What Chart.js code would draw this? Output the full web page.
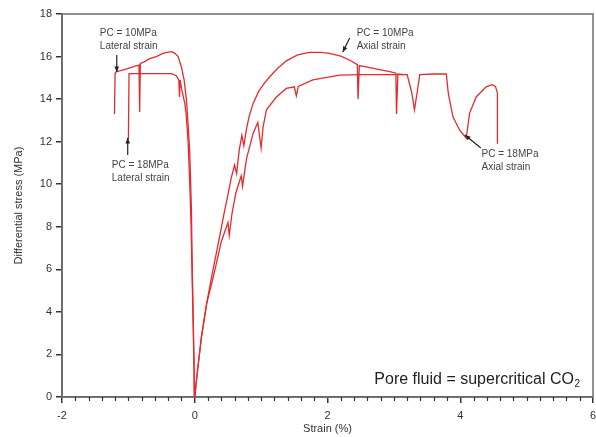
<!DOCTYPE html>
<html lang="en">
<head>
<meta charset="UTF-8" />
<title>Differential stress vs strain – supercritical CO2</title>
<style>
  html,body{margin:0;padding:0;background:#fff;}
  #wrap{width:596px;height:437px;position:relative;}
</style>
<script src="https://cdn.jsdelivr.net/npm/chart.js@4.4.0/dist/chart.umd.min.js"></script>
</head>
<body>
<div id="wrap"><canvas id="c" width="596" height="437"></canvas></div>
<script>
// ===== data (strain %, differential stress MPa) =====
// PC = 10MPa, lateral strain
const lat10Strain = [0, -0.01, -0.025, -0.04, -0.05, -0.075, -0.1, -0.125, -0.16, -0.2, -0.25, -0.3, -0.35, -0.42, -0.48, -0.58, -0.68, -0.76, -0.82, -0.83, -0.84, -0.9, -1.0, -1.1, -1.18, -1.2, -1.21];
const lat10Stress = [0, 1.5, 4.1, 6.5, 8.8, 11.5, 12.8, 13.96, 14.9, 15.5, 16.0, 16.15, 16.23, 16.2, 16.15, 16.0, 15.9, 15.75, 15.68, 13.4, 15.6, 15.55, 15.45, 15.35, 15.29, 15.2, 13.3];
// PC = 18MPa, lateral strain
const lat18Strain = [0, -0.015, -0.035, -0.055, -0.075, -0.1, -0.13, -0.15, -0.2, -0.22, -0.23, -0.24, -0.28, -0.35, -0.55, -0.7, -0.85, -0.95, -0.99, -1.0];
const lat18Stress = [0, 2, 5, 8, 10, 12, 13.3, 13.8, 14.5, 14.9, 14.1, 14.9, 15.1, 15.2, 15.2, 15.2, 15.2, 15.2, 15.2, 12.1];
// PC = 10MPa, axial strain
const ax10Strain = [0, 0.04, 0.1, 0.18, 0.27, 0.36, 0.44, 0.5, 0.55, 0.6, 0.63, 0.67, 0.71, 0.74, 0.78, 0.82, 0.88, 0.96, 1.05, 1.13, 1.25, 1.38, 1.55, 1.73, 1.9, 2.03, 2.2, 2.33, 2.45, 2.46, 2.48, 2.6, 2.69, 2.82, 2.94, 3.03, 3.04, 3.06, 3.15];
const ax10Stress = [0, 1.2, 2.8, 4.4, 5.9, 7.3, 8.6, 9.5, 10.3, 10.9, 10.5, 11.6, 12.3, 11.8, 12.6, 13.2, 13.8, 14.35, 14.75, 15.05, 15.45, 15.8, 16.08, 16.2, 16.2, 16.15, 16.02, 15.84, 15.62, 14.0, 15.58, 15.5, 15.44, 15.36, 15.29, 15.22, 13.3, 15.18, 15.15];
// PC = 18MPa, axial strain
const ax18Strain = [0, 0.04, 0.1, 0.18, 0.28, 0.4, 0.5, 0.52, 0.56, 0.62, 0.7, 0.72, 0.78, 0.88, 0.95, 1.0, 1.03, 1.08, 1.23, 1.38, 1.5, 1.53, 1.56, 1.78, 2.18, 2.5, 2.9, 3.2, 3.27, 3.31, 3.35, 3.39, 3.6, 3.79, 3.82, 3.89, 3.99, 4.09, 4.14, 4.24, 4.39, 4.48, 4.53, 4.56, 4.56];
const ax18Stress = [0, 1.2, 2.8, 4.4, 5.65, 7.3, 8.2, 7.6, 8.6, 9.6, 10.4, 9.9, 11.2, 12.4, 12.9, 11.7, 12.7, 13.5, 14.1, 14.5, 14.58, 14.15, 14.6, 14.9, 15.13, 15.15, 15.15, 15.15, 14.3, 13.5, 14.3, 15.15, 15.18, 15.18, 14.27, 13.17, 12.55, 12.16, 13.33, 14.1, 14.58, 14.68, 14.6, 14.3, 11.9];

const xTicks = [-2, 0, 2, 4, 6];
const yTicks = [0, 2, 4, 6, 8, 10, 12, 14, 16, 18];

// labels with arrows: text anchor and arrow in data units
const noteText = [["PC = 10MPa", "Lateral strain"], ["PC = 18MPa", "Lateral strain"], ["PC = 10MPa", "Axial strain"], ["PC = 18MPa", "Axial strain"]];
const noteAt = [[-1.43, 17.1], [-1.25, 10.9], [2.44, 17.1], [4.32, 11.42]];
const arrowFrom = [[-1.175, 16.07], [-1.01, 11.37], [2.335, 16.87], [4.31, 11.7]];
const arrowTo = [[-1.175, 15.27], [-1.01, 12.17], [2.23, 16.21], [4.07, 12.31]];

const pts = (xs, ys) => xs.map((x, i) => ({x: x, y: ys[i]}));
const red = '#e52a2e';
const fontFam = '"Liberation Sans", Arial, sans-serif';

const line = (label, xs, ys) => ({
  label: label, data: pts(xs, ys), showLine: true,
  borderColor: red, borderWidth: 1.3, pointRadius: 0, tension: 0, fill: false
});

// frame, minor ticks, notes
const extras = {
  id: 'extras',
  beforeDatasetsDraw(chart) {
    const {ctx, chartArea: a} = chart;
    ctx.save();
    ctx.strokeStyle = '#777';
    ctx.lineWidth = 1.6;
    ctx.strokeRect(a.left, a.top, a.right - a.left, a.bottom - a.top);
    ctx.restore();
  },
  afterDraw(chart) {
    const {ctx, chartArea: a, scales: {x, y}} = chart;
    ctx.save();
    // minor ticks every 0.2 on x
    ctx.strokeStyle = '#333';
    ctx.lineWidth = 1.2;
    for (let i = -10; i <= 30; i++) {
      if (i % 10 === 0) continue;
      const px = Math.round(x.getPixelForValue(i * 0.2)) + 0.5;
      ctx.beginPath(); ctx.moveTo(px, a.bottom); ctx.lineTo(px, a.bottom + 4); ctx.stroke();
    }
    // notes
    ctx.fillStyle = '#444';
    ctx.font = '10px ' + fontFam;
    ctx.textBaseline = 'middle';
    noteText.forEach((lines, k) => {
      const tx = x.getPixelForValue(noteAt[k][0]), ty = y.getPixelForValue(noteAt[k][1]);
      lines.forEach((s, j) => ctx.fillText(s, tx, ty + j * 13));
      const x0 = x.getPixelForValue(arrowFrom[k][0]), y0 = y.getPixelForValue(arrowFrom[k][1]);
      const x1 = x.getPixelForValue(arrowTo[k][0]), y1 = y.getPixelForValue(arrowTo[k][1]);
      ctx.strokeStyle = '#222'; ctx.lineWidth = 1.2;
      ctx.beginPath(); ctx.moveTo(x0, y0); ctx.lineTo(x1, y1); ctx.stroke();
      const ang = Math.atan2(y1 - y0, x1 - x0);
      ctx.fillStyle = '#222';
      ctx.beginPath();
      ctx.moveTo(x1, y1);
      ctx.lineTo(x1 - 6 * Math.cos(ang - 0.4), y1 - 6 * Math.sin(ang - 0.4));
      ctx.lineTo(x1 - 6 * Math.cos(ang + 0.4), y1 - 6 * Math.sin(ang + 0.4));
      ctx.closePath(); ctx.fill();
      ctx.fillStyle = '#444';
    });
    // pore fluid label
    ctx.fillStyle = '#222';
    ctx.font = '16px ' + fontFam;
    ctx.textBaseline = 'alphabetic';
    const s = 'Pore fluid = supercritical CO';
    const w = ctx.measureText(s).width;
    const bx = a.right - 19 - w, by = a.bottom - 13;
    ctx.fillText(s, bx, by);
    ctx.font = '10px ' + fontFam;
    ctx.fillText('2', bx + w + 0.5, by + 3);
    ctx.restore();
  }
};

new Chart(document.getElementById('c'), {
  type: 'scatter',
  data: {
    datasets: [
      line('PC = 10MPa lateral', lat10Strain, lat10Stress),
      line('PC = 18MPa lateral', lat18Strain, lat18Stress),
      line('PC = 10MPa axial', ax10Strain, ax10Stress),
      line('PC = 18MPa axial', ax18Strain, ax18Stress)
    ]
  },
  options: {
    responsive: false,
    animation: false,
    devicePixelRatio: 1,
    layout: {padding: {left: 12, right: 3, top: 14, bottom: 0}},
    plugins: {legend: {display: false}, tooltip: {enabled: false}},
    scales: {
      x: {
        type: 'linear', min: -2, max: 6,
        afterBuildTicks: s => { s.ticks = xTicks.map(v => ({value: v})); },
        afterFit: s => { s.height = 40; s.paddingLeft = 0; s.paddingRight = 0; },
        grid: {drawOnChartArea: false, tickLength: 6, color: '#333', lineWidth: 1.5},
        border: {color: '#333', width: 1.8},
        ticks: {color: '#333', font: {size: 11, family: fontFam}, padding: 6, maxRotation: 0},
        title: {display: true, text: 'Strain (%)', color: '#333', font: {size: 11, family: fontFam}, padding: {top: 0, bottom: 1}}
      },
      y: {
        type: 'linear', min: 0, max: 18,
        afterBuildTicks: s => { s.ticks = yTicks.map(v => ({value: v})); },
        afterFit: s => { s.width = 50; },
        grid: {drawOnChartArea: false, tickLength: 6, color: '#333', lineWidth: 1.5},
        border: {color: '#333', width: 1.8},
        ticks: {color: '#333', font: {size: 11, family: fontFam}, padding: 4},
        title: {display: true, text: 'Differential stress (MPa)', color: '#333', font: {size: 11, family: fontFam}, padding: {top: 0, bottom: 0}}
      }
    }
  },
  plugins: [extras]
});
</script>
</body>
</html>
